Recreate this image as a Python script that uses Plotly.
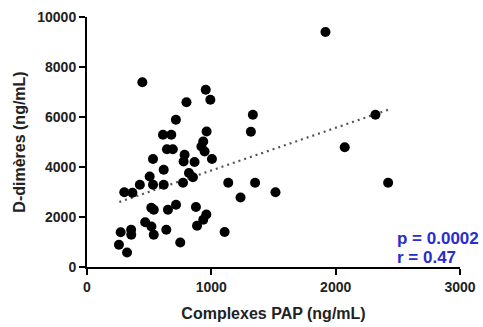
import plotly.graph_objects as go

# Data
pap = [1918, 445, 955, 992, 800, 715, 1334, 2320, 1318, 962,
       611, 678, 643, 690, 920, 935, 946, 1005, 531, 785,
       777, 865, 617, 820, 852, 504, 531, 425, 617, 772,
       1136, 1352, 1516, 1235, 2422, 2073, 365, 300, 517, 537,
       651, 716, 876, 960, 935, 885, 1107, 638, 750, 468,
       518, 537, 271, 355, 356, 257, 322]
ddimer = [9400, 7390, 7090, 6690, 6590, 5890, 6090, 6090, 5410, 5420,
          5290, 5290, 4710, 4710, 4820, 5020, 4620, 4320, 4320, 4490,
          4220, 4200, 3890, 3760, 3590, 3620, 3290, 3290, 3290, 3370,
          3370, 3370, 2990, 2780, 3370, 4790, 2970, 2990, 2370, 2290,
          2290, 2490, 2400, 2100, 1890, 1650, 1400, 1490, 980, 1790,
          1620, 1290, 1390, 1490, 1290, 890, 580]

fit_x = [260, 2430]
fit_y = [2600, 6300]

x_ticks = [0, 1000, 2000, 3000]
y_ticks = [0, 2000, 4000, 6000, 8000, 10000]

stats = ["p = 0.0002", "r = 0.47"]
stats_y = [1130, 380]

FONT = "Liberation Sans, Arial, sans-serif"
TXT = "#222222"

fig = go.Figure()
fig.add_trace(go.Scatter(
    x=fit_x, y=fit_y, mode="lines",
    line=dict(color="#555555", width=2.2, dash="2px,4px"),
    hoverinfo="skip", showlegend=False))
fig.add_trace(go.Scatter(
    x=pap, y=ddimer, mode="markers",
    marker=dict(color="black", size=10, line=dict(width=0)),
    cliponaxis=False, showlegend=False))

for t, yv in zip(stats, stats_y):
    fig.add_annotation(x=2480, y=yv, text=t, showarrow=False,
                       xanchor="left", yanchor="middle",
                       font=dict(family=FONT, size=17, color="#2b2bd0", weight="bold"))

axis_common = dict(
    showline=True, linecolor="black", linewidth=2,
    ticks="outside", ticklen=6, tickwidth=2, tickcolor="black",
    showgrid=False, zeroline=False, automargin=False,
    tickfont=dict(family=FONT, size=14, color=TXT, weight="bold"),
)

fig.update_xaxes(range=[0, 3000], tickvals=x_ticks,
                 ticktext=[str(v) for v in x_ticks],
                 title=dict(text="Complexes PAP (ng/mL)", standoff=14,
                            font=dict(family=FONT, size=16, color=TXT, weight="bold")),
                 **axis_common)
fig.update_yaxes(range=[0, 10000], tickvals=y_ticks,
                 ticktext=[str(v) for v in y_ticks],
                 title=dict(text="D-dimères (ng/mL)", standoff=8,
                            font=dict(family=FONT, size=16, color=TXT, weight="bold")),
                 **axis_common)

fig.update_layout(
    width=483, height=327,
    margin=dict(l=87, r=23, t=17, b=60),
    plot_bgcolor="white", paper_bgcolor="white",
    showlegend=False,
)

fig.write_html("out.html")
